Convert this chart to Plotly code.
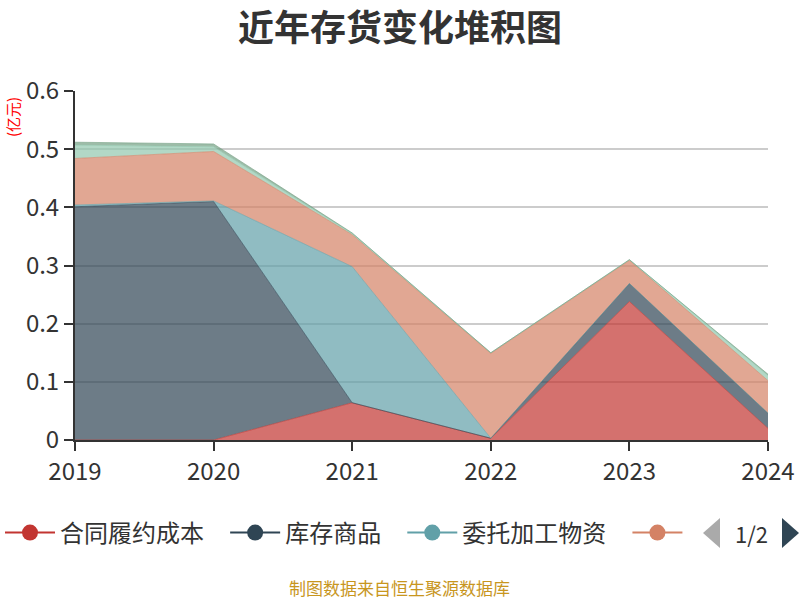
import plotly.graph_objects as go

years = [2019, 2020, 2021, 2022, 2023, 2024]
series_names = ["合同履约成本", "库存商品", "委托加工物资", "原材料", "在产品", "周转材料"]
series_colors = ["#c23531", "#2f4554", "#61a0a8", "#d48265", "#91c7ae", "#749f83"]
contract_cost = [0.0, 0.0, 0.064, 0.003, 0.238, 0.020]
stock_goods = [0.401, 0.410, 0.0, 0.0, 0.031, 0.026]
consigned = [0.003, 0.001, 0.234, 0.0, 0.0, 0.0]
raw_material = [0.080, 0.085, 0.055, 0.146, 0.040, 0.056]
wip = [0.023, 0.008, 0.002, 0.001, 0.001, 0.009]
turnover = [0.005, 0.005, 0.001, 0.0, 0.0, 0.002]
series_values = [contract_cost, stock_goods, consigned, raw_material, wip, turnover]
y_ticks = [0, 0.1, 0.2, 0.3, 0.4, 0.5, 0.6]
y_tick_text = ["0", "0.1", "0.2", "0.3", "0.4", "0.5", "0.6"]

FONT = "Noto Sans CJK SC"

def rgba(hexc, a):
    h = hexc.lstrip("#")
    r, g, b = int(h[0:2], 16), int(h[2:4], 16), int(h[4:6], 16)
    return f"rgba({r},{g},{b},{a})"

fig = go.Figure()
for name, color, vals in zip(series_names, series_colors, series_values):
    fig.add_trace(go.Scatter(
        x=years, y=vals, name=name, stackgroup="one", mode="lines",
        line=dict(color=color, width=0.6), fillcolor=rgba(color, 0.7),
        showlegend=False, hovertemplate="%{x}: %{y}<extra>" + name + "</extra>",
    ))

# legend entries (first page of 2, fourth label clipped)
pad = "\u00a0\u00a0\u00a0"
for i in range(4):
    label = series_names[i] + pad if i < 3 else " "
    fig.add_trace(go.Scatter(
        x=[None], y=[None], name=label, mode="lines+markers",
        line=dict(color=series_colors[i], width=2),
        marker=dict(color=series_colors[i], size=20),
        showlegend=True, hoverinfo="skip",
    ))

W, H = 800, 600
L, R, T, B = 75, 768, 91, 440
pw, ph = R - L, B - T

def px(x):
    return (x - L) / pw

def py(y):
    return (B - y) / ph

shapes = [
    dict(type="path", xref="paper", yref="paper",
         path=f"M {px(720)} {py(518)} L {px(703)} {py(533)} L {px(720)} {py(548)} Z",
         fillcolor="#aaaaaa", line=dict(width=0)),
    dict(type="path", xref="paper", yref="paper",
         path=f"M {px(782)} {py(518)} L {px(799)} {py(533)} L {px(782)} {py(548)} Z",
         fillcolor="#2f4554", line=dict(width=0)),
]

annotations = [
    dict(text="1/2", x=px(751), y=py(533), xref="paper", yref="paper",
         showarrow=False, font=dict(family=FONT, size=22, color="#333333"),
         xanchor="center", yanchor="middle"),
    dict(text="(亿元)", x=px(13), y=py(117), xref="paper", yref="paper",
         showarrow=False, textangle=-90, font=dict(family=FONT, size=15, color="#ff0000"),
         xanchor="center", yanchor="middle"),
    dict(text="制图数据来自恒生聚源数据库", x=0.5 * (px(0) + px(800)), y=py(587),
         xref="paper", yref="paper", showarrow=False,
         font=dict(family=FONT, size=17, color="#c8961e"),
         xanchor="center", yanchor="middle"),
]

fig.update_layout(
    width=W, height=H,
    margin=dict(l=L, r=W - R, t=T, b=H - B, pad=0, autoexpand=False),
    paper_bgcolor="white", plot_bgcolor="white",
    title=dict(text="<b>近年存货变化堆积图</b>", x=0.5, xanchor="center",
               y=1 - 28 / H, yanchor="middle",
               font=dict(family=FONT, size=36, color="#333333")),
    font=dict(family=FONT, color="#333333"),
    xaxis=dict(range=[2019, 2024], tickvals=years, ticktext=[str(y) for y in years],
               showgrid=False, zeroline=False, showline=True, linecolor="#333333",
               linewidth=2, ticks="outside", ticklen=9, tickwidth=2, tickcolor="#333333",
               tickfont=dict(family=FONT, size=24, color="#333333"), automargin=False),
    yaxis=dict(range=[0, 0.6], tickvals=y_ticks, ticktext=y_tick_text,
               showgrid=True, gridcolor="#cccccc", gridwidth=1.5, zeroline=False,
               showline=True, linecolor="#333333", linewidth=2,
               ticks="outside", ticklen=9, tickwidth=2, tickcolor="#333333",
               tickfont=dict(family=FONT, size=24, color="#333333"), automargin=False),
    legend=dict(orientation="h", x=px(0), y=py(533), xanchor="left", yanchor="middle",
                font=dict(family=FONT, size=24, color="#333333"),
                itemwidth=50, bgcolor="rgba(0,0,0,0)", itemclick=False,
                itemdoubleclick=False, traceorder="normal"),
    shapes=shapes, annotations=annotations,
    hovermode="closest",
)

fig.write_html("out.html", config={"displayModeBar": False},
               post_script="document.body.style.margin='0';document.body.style.overflow='hidden';")
